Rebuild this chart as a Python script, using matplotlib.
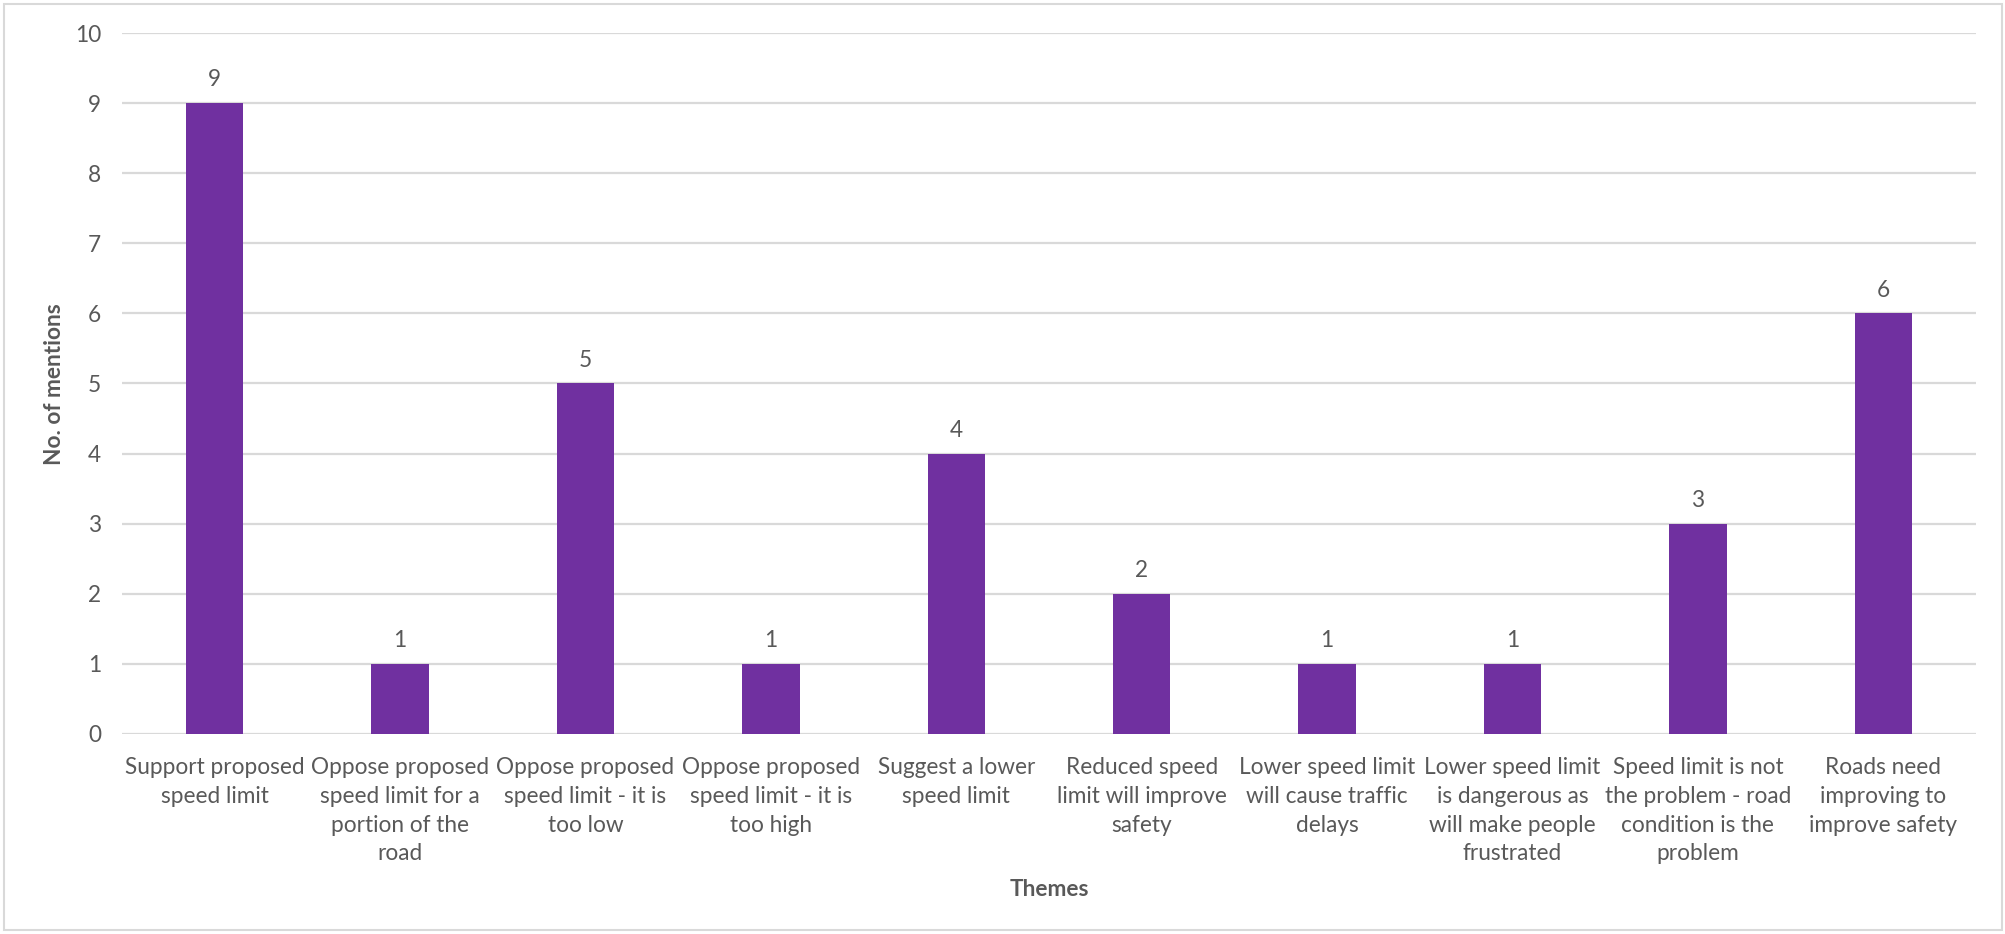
import matplotlib
matplotlib.use("Agg")
import matplotlib.pyplot as plt
from matplotlib.patches import Rectangle

categories = [
    "Support proposed\nspeed limit",
    "Oppose proposed\nspeed limit for a\nportion of the\nroad",
    "Oppose proposed\nspeed limit - it is\ntoo low",
    "Oppose proposed\nspeed limit - it is\ntoo high",
    "Suggest a lower\nspeed limit",
    "Reduced speed\nlimit will improve\nsafety",
    "Lower speed limit\nwill cause traffic\ndelays",
    "Lower speed limit\nis dangerous as\nwill make people\nfrustrated",
    "Speed limit is not\nthe problem - road\ncondition is the\nproblem",
    "Roads need\nimproving to\nimprove safety",
]
values = [9, 1, 5, 1, 4, 2, 1, 1, 3, 6]
y_ticks = list(range(0, 11))

TEXT = "#595959"
GRID = "#D9D9D9"
BAR = "#7030A0"
FS = 16.3

plt.rcParams['font.family'] = ['Lato', 'DejaVu Sans']

W, H = 2006, 934
fig = plt.figure(figsize=(W / 100, H / 100), dpi=100)
ax = fig.add_axes([122 / W, 1 - 734 / H, (1976 - 122) / W, (734 - 33) / H])

x = list(range(len(categories)))
ax.bar(x, values, width=0.31, color=BAR, zorder=3)
ax.set_xlim(-0.5, len(categories) - 0.5)
ax.set_ylim(0, 10)
ax.set_yticks(y_ticks)
ax.yaxis.grid(True, color=GRID, linewidth=1.6, zorder=0)
for s in ax.spines.values():
    s.set_visible(False)
ax.tick_params(axis='both', length=0, labelsize=FS, colors=TEXT)
ax.tick_params(axis='y', pad=15)
ax.tick_params(axis='x', pad=16.5)
ax.set_xticks(x)
ax.set_xticklabels(categories, linespacing=1.46)

for xi, v in zip(x, values):
    ax.annotate(str(v), (xi, v), xytext=(0, 12), textcoords='offset points',
                ha='center', va='baseline', fontsize=FS, color=TEXT)

fig.text(55 / W, 1 - 384 / H, "No. of mentions", rotation=90, ha='center', va='center',
         fontsize=FS, fontweight='bold', color=TEXT)
fig.text(1049 / W, 1 - 890 / H, "Themes", ha='center', va='center',
         fontsize=FS, fontweight='bold', color=TEXT)

fig.patches.append(Rectangle((4 / W, 4 / H), (W - 8) / W, (H - 8) / H,
                             transform=fig.transFigure, fill=False,
                             edgecolor=GRID, linewidth=1.5))

fig.savefig("out.png", dpi=100, facecolor="white")
